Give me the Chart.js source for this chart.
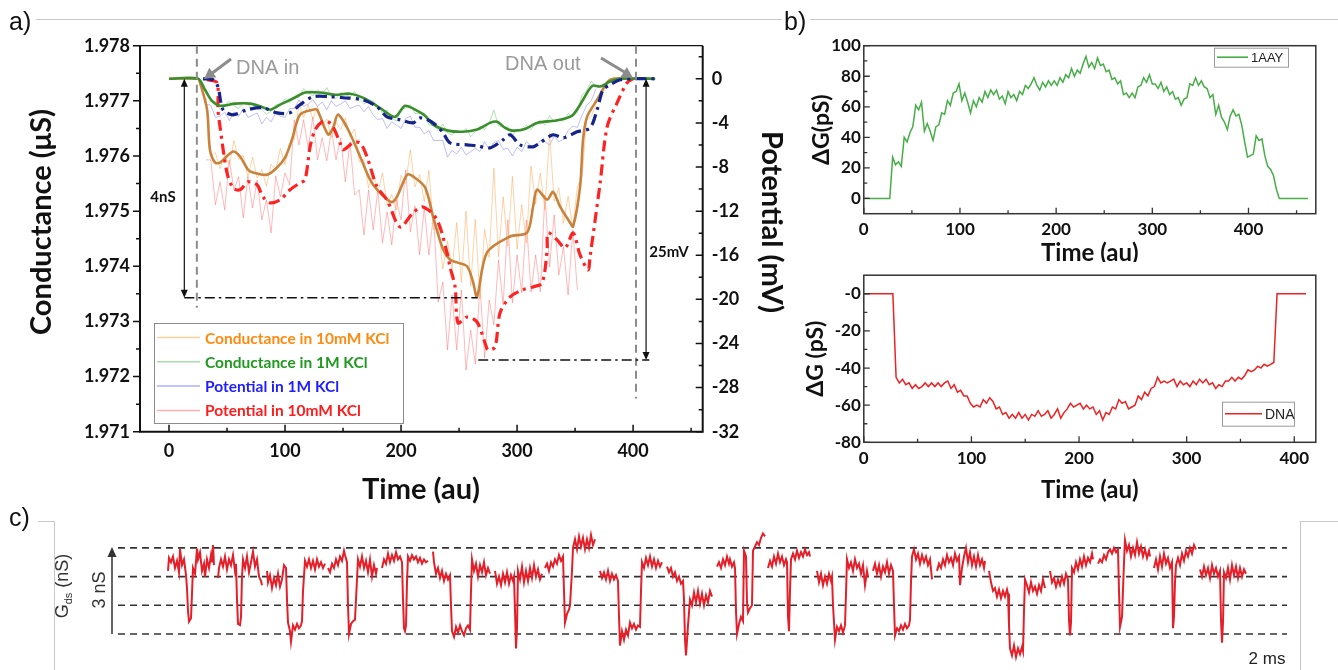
<!DOCTYPE html>
<html>
<head>
<meta charset="utf-8">
<script src="https://cdn.jsdelivr.net/npm/chart.js@4.4.1/dist/chart.umd.min.js"></script>
<style>
body{margin:0;background:#fff;width:1338px;height:670px;overflow:hidden;position:relative;font-family:'Liberation Sans',Arial,sans-serif}
canvas{position:absolute}
.rule{position:absolute;background:#c8c8c8}
.lbl{position:absolute;font-size:25px;line-height:25px;color:#111}
</style>
</head>
<body>
<div class="rule" style="left:36px;top:19px;width:746px;height:1px"></div>
<div class="rule" style="left:810px;top:19px;width:528px;height:1px"></div>
<div class="rule" style="left:38px;top:521px;width:16px;height:1px"></div>
<div class="rule" style="left:54px;top:521px;width:1px;height:149px"></div>
<div class="rule" style="left:1300px;top:521px;width:1px;height:149px"></div>
<div class="rule" style="left:1300px;top:521px;width:38px;height:1px"></div>

<canvas id="chartA" width="790" height="520" style="left:0;top:0"></canvas>
<canvas id="chartB1" width="548" height="262" style="left:790px;top:0"></canvas>
<canvas id="chartB2" width="548" height="258" style="left:790px;top:262px"></canvas>
<canvas id="chartC" width="1338" height="149" style="left:0;top:521px"></canvas>

<div class="lbl" style="left:9px;top:9px">a)</div>
<div class="lbl" style="left:784px;top:9px">b)</div>
<div class="lbl" style="left:9px;top:505px">c)</div>

<script>
Chart.defaults.font.family = 'Lato';

// ---------- panel a : conductance / potential vs time ----------
const aTimeTicks = [0, 100, 200, 300, 400];
const aTimeMinor = [50, 150, 250, 350, 450];
const aCondTicks = [1.971, 1.972, 1.973, 1.974, 1.975, 1.976, 1.977, 1.978];
const aCondMinor = [1.9715, 1.9725, 1.9735, 1.9745, 1.9755, 1.9765, 1.9775];
const aPotTicks = [-32, -28, -24, -20, -16, -12, -8, -4, 0];
const aPotMinor = [-30, -26, -22, -18, -14, -10, -6, -2, 2];

// raw traces, sampled every 4 au starting at 32 au
const rawStart = 32, rawStep = 4;
const cond10mM = [
  1.97705,1.97601,1.97606,1.97577,1.97602,1.97583,1.97628,1.97594,1.97601,1.97561,
  1.97598,1.97560,1.97575,1.97545,1.97585,1.97574,1.97614,1.97584,1.97623,1.97630,
  1.97694,1.97670,1.97693,1.97666,1.97691,1.97654,1.97667,1.97634,1.97662,1.97648,
  1.97669,1.97635,1.97649,1.97589,1.97593,1.97542,1.97569,1.97533,1.97569,1.97511,
  1.97530,1.97502,1.97565,1.97550,1.97611,1.97544,1.97566,1.97517,1.97574,1.97466,
  1.97478,1.97395,1.97446,1.97396,1.97479,1.97371,1.97500,1.97364,1.97485,1.97341,
  1.97467,1.97416,1.97578,1.97417,1.97526,1.97436,1.97563,1.97431,1.97512,1.97442,
  1.97582,1.97513,1.97569,1.97502,1.97642,1.97518,1.97542,1.97478,1.97527,1.97470,
  1.97544,1.97562,1.97666,1.97672,1.97692];
const cond1M = [
  1.97721,1.97698,1.97699,1.97684,1.97692,1.97699,1.97691,1.97686,1.97698,1.97693,
  1.97686,1.97693,1.97684,1.97676,1.97681,1.97693,1.97692,1.97704,1.97696,1.97707,
  1.97706,1.97722,1.97715,1.97709,1.97720,1.97712,1.97724,1.97708,1.97704,1.97715,
  1.97712,1.97707,1.97717,1.97704,1.97695,1.97698,1.97700,1.97690,1.97678,1.97683,
  1.97669,1.97663,1.97685,1.97687,1.97693,1.97677,1.97677,1.97678,1.97656,1.97656,
  1.97647,1.97658,1.97642,1.97638,1.97647,1.97642,1.97650,1.97635,1.97644,1.97654,
  1.97648,1.97660,1.97683,1.97655,1.97652,1.97653,1.97637,1.97649,1.97645,1.97656,
  1.97648,1.97660,1.97664,1.97656,1.97673,1.97662,1.97667,1.97663,1.97677,1.97672,
  1.97679,1.97710,1.97718,1.97736,1.97725];
const pot1M = [
  -2.3,-2.4,-3.5,-3.4,-3.0,-3.8,-3.0,-3.4,-2.7,-3.5,
  -3.3,-3.1,-4.1,-3.5,-3.9,-3.1,-3.4,-3.5,-2.7,-2.7,
  -1.9,-2.5,-2.3,-1.9,-2.5,-2.1,-2.8,-2.0,-2.5,-2.3,
  -2.0,-2.7,-2.5,-2.4,-3.0,-2.5,-3.3,-3.7,-3.6,-4.5,
  -3.9,-4.2,-4.5,-3.6,-3.4,-4.4,-4.4,-5.0,-4.7,-5.6,
  -5.6,-5.6,-7.1,-6.5,-6.8,-6.2,-6.9,-6.6,-6.3,-6.6,
  -5.7,-6.4,-5.8,-5.6,-6.4,-6.3,-7.0,-6.2,-6.6,-5.7,
  -6.1,-6.2,-5.6,-5.7,-6.0,-5.2,-5.7,-5.5,-4.7,-4.3,
  -4.4,-3.3,-2.4,-2.0,-0.9];
const pot10mM = [
  -7.35,-7.35,-11.43,-9.35,-11.89,-7.35,-10.07,-8.89,-12.61,-8.89,
  -11.71,-9.17,-12.79,-10.98,-13.97,-8.80,-10.71,-8.53,-9.62,-3.72,
  -5.99,-3.72,-6.26,-3.45,-7.35,-5.35,-7.44,-4.63,-7.35,-5.35,
  -9.35,-5.72,-10.53,-10.07,-14.16,-10.07,-13.70,-10.07,-14.88,-12.07,
  -15.06,-10.98,-12.79,-8.26,-13.88,-11.52,-15.97,-11.62,-15.97,-12.34,
  -20.24,-18.42,-24.59,-19.60,-24.59,-19.15,-26.41,-22.78,-25.86,-18.69,
  -25.32,-20.05,-22.32,-16.42,-20.51,-12.79,-20.33,-15.97,-19.42,-12.79,
  -19.33,-15.97,-19.33,-10.53,-17.06,-12.34,-17.79,-15.25,-19.60,-13.70,
  -19.15];

// smoothed traces
const cond10mMSmT = [0,25,26.7,32.8,35.3,39.7,44,55.2,61.2,68.1,72.4,84.5,93.1,100,106,112.9,124.1,127.6,137.1,141.4,145.7,154.3,164.7,173.3,179.3,193.1,205.2,210.3,220.7,227.6,236.2,242.2,248.3,256.9,262.1,265.5,274.1,294,308.6,313.8,317.2,325.9,331,337.1,345.7,348.3,354.3,356.9,360.3,369,377.6,382.8,419];
const cond10mMSm = [1.97740,1.97740,1.97733,1.97684,1.97611,1.97588,1.97588,1.97608,1.97599,1.97575,1.97570,1.97566,1.97579,1.97597,1.97630,1.97675,1.97684,1.97684,1.97639,1.97651,1.97675,1.97648,1.97599,1.97557,1.97539,1.97517,1.97566,1.97563,1.97543,1.97490,1.97431,1.97412,1.97407,1.97400,1.97371,1.97345,1.97425,1.97454,1.97461,1.97508,1.97539,1.97521,1.97535,1.97508,1.97479,1.97472,1.97544,1.97630,1.97671,1.97702,1.97733,1.97740,1.97740];
const cond1MSmT = [0,25,31,37.1,44,56.9,69.8,80.2,87.1,95.7,108.6,117.2,130.2,143.1,156,169,181.9,194.8,203.4,212.1,220.7,227.6,240.5,253.4,265.5,276.7,282.8,289.7,295.7,306.9,317.2,332.8,341.4,347.4,352.6,356.9,364.7,371.6,380.2,388.8,419];
const cond1MSm = [1.97740,1.97740,1.97720,1.97700,1.97691,1.97695,1.97695,1.97689,1.97684,1.97693,1.97706,1.97715,1.97715,1.97711,1.97713,1.97704,1.97687,1.97671,1.97691,1.97684,1.97673,1.97657,1.97646,1.97644,1.97648,1.97660,1.97662,1.97651,1.97646,1.97649,1.97660,1.97664,1.97668,1.97673,1.97687,1.97702,1.97727,1.97726,1.97735,1.97740,1.97740];
const pot10mMSmT = [32.8,41.4,42.2,44,50,55.2,61.2,68.1,75.9,81,87.1,95.7,104.3,112.9,117.2,121.6,125.9,131.9,137.1,141.4,147.4,150,158.6,164.7,170.7,179.3,187.9,199.1,210.3,219,231,239.7,242.2,246.6,249.1,256.9,265.5,272.4,275,281,285.3,294,304.3,313.8,321.6,325.9,326.7,334.5,341.4,348.3,354.3,361.2,362.9,371.6,377.6,386.2,394.8,400];
const pot10mMSm = [-0.09,-0.36,-2.8,-4.36,-8.53,-9.89,-10.07,-9.35,-9.62,-10.71,-11.25,-10.98,-10.07,-9.44,-9.17,-6.17,-4.63,-3.9,-3.9,-4.36,-5.81,-6.44,-5.81,-5.81,-7.08,-9.8,-10.98,-13.43,-12.16,-11.62,-12.79,-15.79,-17.06,-18.87,-22.14,-21.6,-22.05,-23.96,-24.59,-24.32,-21.23,-19.78,-19.15,-18.87,-18.51,-15.52,-13.97,-14.61,-15.34,-13.97,-15.97,-17.33,-16.15,-9.44,-4.36,-2.18,-0.36,0];
const pot1MSmT = [29.3,37.9,42.2,46.6,55.2,67.2,81,93.1,104.3,112.9,124.1,138.8,150,167.2,179.3,187.9,199.1,210.3,216.4,227.6,236.2,242.2,256.9,265.5,276.7,287.9,294,302.6,313.8,319.8,331,339.7,351.7,362.9,369,374.1,380.2,388.8,400,419];
const pot1MSm = [0,-0.09,-0.73,-2.81,-3.27,-2.81,-2.63,-3.09,-3.09,-2.36,-1.63,-1.63,-1.72,-1.91,-2.54,-3.45,-3.72,-4.0,-3.54,-3.99,-4.9,-5.81,-5.99,-6.08,-6.26,-5.54,-5.08,-5.99,-6.17,-5.81,-5.08,-5.35,-4.81,-4.45,-2.81,-1.0,-0.54,-0.09,0,0];

// ---------- panel b ----------
const bStart = 0, bStep = 3;
const bTimeTicks = [0, 100, 200, 300, 400];
const bTimeMinor = [50, 150, 250, 350, 450];
const b1Ticks = [0, 20, 40, 60, 80, 100];
const b1Minor = [10, 30, 50, 70, 90];
const b2Ticks = [-80, -60, -40, -20, 0];
const b2Minor = [-70, -50, -30, -10];
const dG1AAY = [
  0,0,0,0,0,0,0,0,0,0,
  27,22,24,21,40,37,43,47,61,58, 63,44,49,44,38,47,48,56,55,64,
  61,69,70,75,64,69,63,56,64,60, 66,63,70,66,71,68,71,65,67,62,
  70,66,68,64,70,68,74,72,75,79, 74,71,76,73,77,74,77,74,79,76,
  81,79,85,80,84,82,88,93,86,89, 85,92,87,88,83,84,78,79,75,77,
  68,69,66,69,66,73,74,79,76,81, 75,75,72,76,70,73,68,70,65,66,
  61,65,66,75,74,79,74,77,73,72, 66,68,55,61,53,50,45,54,58,54,
  55,48,37,27,28,29,41,38,39,28, 21,19,15,6,
  0,0,0,0,0,0,0,0,0,0,0];
const dGDNA = [
  0,0,0,0,0,0,0,0,0,0,
  -45,-48,-46,-49,-48,-51,-49,-51,-50,-48, -50,-48,-50,-48,-50,-48,-47,-51,-49,-53,
  -52,-55,-55,-59,-61,-60,-61,-57,-59,-56, -58,-62,-61,-65,-64,-67,-65,-67,-64,-67,
  -65,-68,-65,-66,-63,-66,-65,-63,-67,-65, -62,-67,-64,-62,-59,-61,-60,-59,-62,-60,
  -62,-61,-65,-63,-68,-64,-65,-61,-62,-57, -59,-58,-62,-61,-60,-55,-57,-53,-55,-51,
  -50,-45,-48,-47,-48,-47,-46,-50,-47,-49, -48,-50,-47,-49,-46,-48,-46,-49,-48,-51,
  -49,-50,-47,-47,-45,-47,-45,-46,-44,-41, -42,-41,-39,-40,-38,-39,-38,-37,
  0,0,0,0,0,0,0,0,0,0];

// ---------- panel c : telegraph signal, time in samples, G in nS ----------
const cLevels = [0, 1, 2, 3];
const cTimeSeg = [
  [50,51,53,55,57,59,61,62,64,66,68,69,70,71,73,74,75,77,79,80,82,84,86,87,89,91,93,94,95,96],
  [100,101,103,105,107,109,111,113,115,117,118,119,120,122,123,124,125,127,129,131,133,135,137,139,141,143,144],
  [149,150,152,154,156,158,160,162,164,166,168,169,170,172,173,175,177,179,181,183,184,185,187,189,191,193,195,197,199,201,203,205,207],
  [210,212,214,216,218,220,222,224,226,227,229,230,231,233,235,237,238,240,242,244,246,248,250,252,254,256,258,259],
  [264,266,268,270,272,274,276,278,280,282,284,285,286,287,288,289,290,292,294,296,298,300,302,304,306,308,310],
  [315,316,318,320,322,324,326,328,330,332,333,334,336,338,340,342,344,346,348,350,352,353,354,356,358,360,362,364,366,368,370,372],
  [377,379,381,383,385,387,389,391,393,395,396,397,398,399,400,402,404,406,408,410,412,414,416,418,420,422,424],
  [427,429,431,433,435,437,439,441,443,445,446,447,449,451,452,454,455,457,459,461,463,465,467,469,471,473,475,477],
  [482,484,486,488,490,492,494,496,498,500,501,502,504,506,508,510,512,514,516,518,520,522,523,524,526,528,530,532,534,536,538,540,542,544],
  [549,551,553,555,557,559,561,563,565,566,567,568,570,572,574,576,578,580,582,584,586,588,590,592,594],
  [599,601,603,605,607,609,611,612,614,616,617,618,619,621,623,625,626,628,629,630,632,634,635,637,639,641,643,645,647],
  [650,652,654,656,658,660,662,664,666,668,669,670,671,672,673,675,677,679,681,683,685,687,689,691,692],
  [699,701,703,705,707,709,711,713,714,715,717,719,721,723,725,727,728,729,731,733,735,737,739,741,743,745,747,749,750],
  [755,757,759,761,763,765,767,769,771,773,775,776,777,779,781,783,785,787,789,791,792,793,794,796,798,800,802,804,806,808,810,812,814],
  [819,821,823,825,827,829,831,833,835,837,839,841,842,844,846,848,850,852,854,856,858,860,862,864,866,867],
  [871,873,875,877,879,881,883,885,887,889,890,891,892,894,896,898,900,902,904,905,906,907,909,911,913,915,917,919,921,923,925,927],
  [932,934,936,938,940,942,944,946,948,950,951,952,953,954,956,958,960,962,964,966,968,970,972,974,975],
  [980,982,984,986,988,990,992,994,996,998,1000,1001,1002,1004,1006,1007,1009,1011,1013,1015,1017,1019,1021,1023,1025,1027,1029,1031,1032],
  [1036,1038,1040,1042,1044,1046,1048,1050,1052,1054,1055,1056,1057,1058,1060,1062,1064,1066,1068,1070,1072,1074,1076,1078],
  [1082,1084,1086,1088,1090,1092,1094,1096,1098,1100,1102,1103,1104,1105,1106,1108,1110,1112,1114,1116,1118,1120,1122,1124,1126,1128]
];
const cCondSeg = [
  [2.2,2.65,2.5,2.7,2.3,2.55,2.15,2.96,2.4,2.6,2.05,1.6,0.8,0.43,0.55,1.4,2.3,2.1,2.98,2.6,2.85,2.2,2.45,2.0,2.6,2.3,2.75,2.5,3.1,2.4],
  [1.95,2.3,2.6,2.35,2.7,2.25,2.6,2.4,2.75,2.2,2.45,1.2,0.35,0.31,0.6,2.0,2.6,2.3,2.7,2.15,2.5,2.87,2.35,2.6,2.0,1.85,1.7],
  [2.2,1.8,2.05,1.6,1.95,1.7,2.1,1.65,1.9,2.4,2.3,1.2,0.4,0.1,-0.27,0.3,0.15,0.35,0.2,0.3,0.45,1.5,2.55,2.35,2.6,2.3,2.55,2.25,2.6,2.35,2.5,2.3,2.45],
  [2.3,2.15,2.45,2.3,2.6,2.4,2.7,2.55,2.9,2.75,2.5,1.0,0.0,0.35,0.45,0.5,1.2,2.6,2.35,2.7,2.3,2.55,2.15,2.6,2.0,2.4,2.1,2.3],
  [2.3,2.6,2.45,2.8,2.5,2.75,2.55,2.85,2.6,2.7,2.5,1.2,0.2,0.1,0.3,1.8,2.7,2.55,2.75,2.6,2.7,2.5,2.65,2.45,2.6,2.5,2.55],
  [2.87,2.5,2.1,2.3,1.95,2.2,1.85,2.1,1.9,2.05,1.0,0.1,-0.1,0.25,0.05,0.3,0.1,-0.05,0.2,0.3,0.15,1.5,2.6,2.2,2.45,2.0,2.4,2.15,2.5,2.05,2.3,2.1],
  [2.2,1.75,2.0,1.7,2.1,1.8,2.15,1.75,2.05,1.85,2.0,0.8,-0.5,0.2,2.2,1.9,2.35,1.8,2.2,1.85,2.3,1.95,2.4,2.0,2.25,1.9,2.1],
  [2.3,2.45,2.2,2.5,2.35,2.6,2.45,2.75,2.55,2.7,1.5,0.4,0.7,0.85,1.0,2.2,3.0,3.3,2.95,3.4,3.05,3.35,2.95,3.3,3.0,3.45,3.1,3.3],
  [2.2,1.95,2.15,1.9,2.2,1.85,2.1,1.9,2.05,1.85,0.6,-0.4,0.1,-0.2,0.15,-0.05,0.4,0.2,0.35,0.15,0.3,0.25,1.5,2.5,2.3,2.65,2.4,2.7,2.35,2.6,2.3,2.55,2.35,2.5],
  [2.35,2.15,2.3,2.0,2.15,1.85,2.0,1.75,1.85,1.2,-0.2,-0.75,0.3,1.2,1.0,1.45,1.1,1.5,1.05,1.4,1.0,1.35,1.1,1.5,1.3],
  [2.35,2.5,2.3,2.6,2.4,2.7,2.45,2.6,2.35,2.5,2.3,0.8,0.0,0.35,0.6,0.45,2.9,2.7,1.1,0.75,0.9,1.0,2.9,3.05,3.2,3.1,3.35,3.5,3.4],
  [2.3,2.55,2.35,2.7,2.45,2.8,2.5,2.7,2.4,2.6,2.5,0.6,0.1,1.5,2.6,2.8,2.6,2.9,2.65,2.85,2.7,2.95,2.75,2.85,2.7],
  [2.2,1.8,2.1,1.7,2.0,1.75,2.1,1.85,2.0,1.0,-0.2,0.25,0.1,0.3,0.05,0.3,1.4,2.6,2.3,2.5,2.2,2.6,2.3,2.45,2.1,2.4,1.7,2.2,2.0],
  [2.2,2.45,2.1,2.4,2.0,2.35,2.15,2.5,2.1,2.4,2.2,1.0,-0.05,0.2,0.1,0.3,0.15,0.35,0.2,0.3,0.5,1.8,2.7,2.95,2.6,2.8,2.45,2.75,2.5,2.7,2.4,2.6,1.9],
  [2.2,2.45,2.3,2.6,2.4,2.75,2.5,2.65,2.4,2.8,2.55,2.7,1.7,2.3,2.7,3.0,2.5,2.85,2.4,2.7,2.35,2.75,2.4,2.6,2.3,2.55],
  [2.2,1.8,1.5,1.6,1.3,1.55,1.25,1.5,1.3,1.55,1.4,0.3,-0.5,-0.75,-0.4,-0.8,-0.5,-0.7,-0.45,-0.6,0.8,1.9,1.7,1.45,1.8,1.5,1.65,1.4,1.7,1.5,1.9,1.6],
  [2.2,1.8,1.95,1.65,1.9,1.7,2.0,1.75,2.1,1.9,0.5,-0.05,0.4,2.3,2.15,2.5,2.25,2.6,2.35,2.7,2.4,2.65,2.5,2.8,2.6],
  [2.45,2.6,2.5,2.75,2.6,2.85,2.95,2.8,3.0,2.85,2.95,1.5,0.25,0.6,2.5,3.27,2.9,3.1,2.7,3.0,2.75,3.2,2.8,3.05,2.7,2.95,2.65,2.9,2.7],
  [2.3,2.6,2.25,2.7,2.35,2.8,2.45,2.65,2.3,2.5,0.2,0.6,1.8,2.4,2.65,2.4,2.8,2.55,2.9,2.7,3.0,2.8,3.1,2.95],
  [2.25,2.0,2.35,2.05,2.3,1.95,2.4,2.1,2.3,2.0,2.2,0.5,-0.3,0.4,2.15,1.95,2.3,1.9,2.4,2.05,2.35,1.95,2.3,2.0,2.25,2.1]
];

// ---------- helpers ----------
const pairs = (ts, vs) => ts.map((t, i) => ({x: t, y: vs[i]}));
const sampled = (vals, start, step) => vals.map((v, i) => ({x: start + step * i, y: v}));
const setTicks = vals => s => { s.ticks = vals.map(v => ({value: v})); };

function tickMarks(ctx, scale, values, edge, len, sign) {
  ctx.beginPath();
  values.forEach(v => {
    const p = scale.getPixelForValue(v);
    if (scale.isHorizontal()) { ctx.moveTo(p, edge); ctx.lineTo(p, edge + sign * len); }
    else { ctx.moveTo(edge, p); ctx.lineTo(edge + sign * len, p); }
  });
  ctx.stroke();
}
function head(ctx, x1, y1, x2, y2, len, half) {
  const a = Math.atan2(y2 - y1, x2 - x1);
  ctx.beginPath();
  ctx.moveTo(x2, y2);
  ctx.lineTo(x2 - len * Math.cos(a) + half * Math.sin(a), y2 - len * Math.sin(a) - half * Math.cos(a));
  ctx.lineTo(x2 - len * Math.cos(a) - half * Math.sin(a), y2 - len * Math.sin(a) + half * Math.cos(a));
  ctx.closePath();
  ctx.fill();
}
function seg(ctx, x1, y1, x2, y2) {
  ctx.beginPath(); ctx.moveTo(x1, y1); ctx.lineTo(x2, y2); ctx.stroke();
}
function rotText(ctx, txt, x, y, ang) {
  ctx.save(); ctx.translate(x, y); ctx.rotate(ang);
  ctx.textAlign = 'center'; ctx.textBaseline = 'middle';
  ctx.fillText(txt, 0, 0); ctx.restore();
}

const tickFontA = {family: 'Lato', weight: 'bold', size: 18};
const tickFontB = {family: 'Lato', weight: 'bold', size: 17};

// ---------- panel a ----------
const legendA = [
  {text: 'Conductance in 10mM KCl', line: 'rgba(255,170,90,0.6)', color: '#ff8a10'},
  {text: 'Conductance in 1M KCl', line: 'rgba(110,200,110,0.6)', color: '#1f9a1f'},
  {text: 'Potential in 1M KCl', line: 'rgba(120,120,255,0.6)', color: '#1e1eff'},
  {text: 'Potential in 10mM KCl', line: 'rgba(255,120,120,0.6)', color: '#ff1c1c'}
];

const decorA = {
  id: 'decorA',
  afterDraw(chart) {
    const {ctx, chartArea: ca} = chart;
    const {x, y, y2} = chart.scales;
    ctx.save();
    // frame
    ctx.strokeStyle = '#111';
    ctx.lineWidth = 1.2;
    seg(ctx, ca.left, ca.top, ca.right, ca.top);
    ctx.lineWidth = 2;
    ctx.beginPath();
    ctx.moveTo(ca.left, ca.top); ctx.lineTo(ca.left, ca.bottom);
    ctx.lineTo(ca.right, ca.bottom); ctx.lineTo(ca.right, ca.top);
    ctx.stroke();
    ctx.lineWidth = 1.5;
    tickMarks(ctx, y, aCondTicks, ca.left, 7, -1);
    tickMarks(ctx, y, aCondMinor, ca.left, 4, -1);
    tickMarks(ctx, x, aTimeTicks, ca.bottom, 7, -1);
    tickMarks(ctx, x, aTimeMinor, ca.bottom, 4, -1);
    tickMarks(ctx, y2, aPotTicks, ca.right, 7, -1);
    tickMarks(ctx, y2, aPotMinor, ca.right, 4, -1);

    // DNA in / out markers
    ctx.strokeStyle = '#8c8c8c';
    ctx.lineWidth = 2;
    ctx.setLineDash([8, 5]);
    seg(ctx, x.getPixelForValue(24), ca.top, x.getPixelForValue(24), y.getPixelForValue(1.97325));
    seg(ctx, x.getPixelForValue(402.5), ca.top, x.getPixelForValue(402.5), y2.getPixelForValue(-29));
    ctx.setLineDash([]);
    ctx.fillStyle = '#8c8c8c';
    ctx.lineWidth = 3;
    seg(ctx, 231, 59, 211, 74); head(ctx, 231, 59, 204, 79, 11, 6);
    seg(ctx, 601, 58, 626, 73); head(ctx, 601, 58, 633, 78, 11, 6);
    ctx.fillStyle = '#9a9a9a';
    ctx.font = '20px "Liberation Sans", Arial, sans-serif';
    ctx.textBaseline = 'middle';
    ctx.textAlign = 'left';
    ctx.fillText('DNA in', 236, 68);
    ctx.fillText('DNA out', 505, 64);

    // 4 nS and 25 mV spans
    ctx.strokeStyle = '#111';
    ctx.fillStyle = '#111';
    ctx.lineWidth = 1.2;
    const ax = x.getPixelForValue(13.2), ayT = y.getPixelForValue(1.9774), ayB = y.getPixelForValue(1.97343);
    seg(ctx, ax, ayT + 6, ax, ayB - 6);
    head(ctx, ax, ayB, ax, ayT, 8, 3.5); head(ctx, ax, ayT, ax, ayB, 8, 3.5);
    const bx = x.getPixelForValue(411.2), byT = y2.getPixelForValue(0), byB = y2.getPixelForValue(-25.5);
    seg(ctx, bx, byT + 6, bx, byB - 6);
    head(ctx, bx, byB, bx, byT, 8, 3.5); head(ctx, bx, byT, bx, byB, 8, 3.5);
    ctx.lineWidth = 1.6;
    ctx.setLineDash([10, 4, 2.5, 4]);
    seg(ctx, ax, ayB, x.getPixelForValue(266), ayB);
    seg(ctx, x.getPixelForValue(266.5), byB, x.getPixelForValue(414), byB);
    ctx.setLineDash([]);
    ctx.font = 'bold 15px Lato';
    ctx.textAlign = 'center';
    ctx.fillText('4nS', 163, 197);
    ctx.fillText('25mV', 669, 252);

    // legend
    ctx.fillStyle = '#fff';
    ctx.fillRect(154, 323, 249, 100);
    ctx.strokeStyle = '#8c8c8c';
    ctx.lineWidth = 1;
    ctx.strokeRect(154.5, 323.5, 249, 100);
    ctx.font = 'bold 15.5px Lato';
    ctx.textAlign = 'left';
    legendA.forEach((e, i) => {
      const ly = 337.5 + i * 24.3;
      ctx.strokeStyle = e.line; ctx.lineWidth = 1.5;
      seg(ctx, 157, ly, 200, ly);
      ctx.fillStyle = e.color;
      ctx.fillText(e.text, 205, ly + 1);
    });

    // axis titles
    ctx.fillStyle = '#111';
    ctx.font = 'bold 29px Lato';
    rotText(ctx, 'Conductance (\u03bcS)', 42, 222, -Math.PI / 2);
    rotText(ctx, 'Potential (mV)', 771, 222, Math.PI / 2);
    rotText(ctx, 'Time (au)', 421, 490, 0);
    ctx.restore();
  }
};

const thin = (data, color, axis) => ({data, yAxisID: axis, borderColor: color, borderWidth: 1, pointRadius: 0, tension: 0, order: 5});

new Chart(document.getElementById('chartA'), {
  type: 'line',
  data: {
    datasets: [
      thin(sampled(cond10mM, rawStart, rawStep), 'rgba(255,165,80,0.5)', 'y'),
      thin(sampled(cond1M, rawStart, rawStep), 'rgba(80,190,80,0.45)', 'y'),
      thin(sampled(pot1M, rawStart, rawStep), 'rgba(110,110,255,0.45)', 'y2'),
      thin(sampled(pot10mM, rawStart, rawStep), 'rgba(255,100,100,0.45)', 'y2'),
      {data: pairs(cond10mMSmT, cond10mMSm), yAxisID: 'y', borderColor: '#c9823c', borderWidth: 2.6, pointRadius: 0, tension: 0.3, order: 3},
      {data: pairs(pot10mMSmT, pot10mMSm), yAxisID: 'y2', borderColor: '#ff2222', borderWidth: 3.2, borderDash: [11, 5, 3, 5], pointRadius: 0, tension: 0.3, order: 2},
      {data: pairs(cond1MSmT, cond1MSm), yAxisID: 'y', borderColor: '#3a8e2c', borderWidth: 2.6, pointRadius: 0, tension: 0.3, order: 1},
      {data: pairs(pot1MSmT, pot1MSm), yAxisID: 'y2', borderColor: '#15248a', borderWidth: 3.2, borderDash: [11, 5, 3, 5], pointRadius: 0, tension: 0.3, order: 0}
    ]
  },
  options: {
    responsive: false, animation: false, devicePixelRatio: 1,
    layout: {padding: {top: 45.7, left: 0, right: 0, bottom: 0}},
    plugins: {legend: {display: false}, tooltip: {enabled: false}},
    scales: {
      x: {type: 'linear', min: -25, max: 460,
          grid: {display: false, drawTicks: false}, border: {display: false},
          ticks: {font: tickFontA, color: '#111', padding: 9, autoSkip: false, maxRotation: 0},
          afterBuildTicks: setTicks(aTimeTicks), afterFit: s => { s.height = 88.3; }},
      y: {min: 1.971, max: 1.978,
          grid: {display: false, drawTicks: false}, border: {display: false},
          ticks: {font: tickFontA, color: '#111', padding: 10, callback: v => v.toFixed(3)},
          afterBuildTicks: setTicks(aCondTicks), afterFit: s => { s.width = 140; }},
      y2: {position: 'right', min: -32, max: 3,
           grid: {display: false, drawTicks: false}, border: {display: false},
           ticks: {font: tickFontA, color: '#111', padding: 9},
           afterBuildTicks: setTicks(aPotTicks), afterFit: s => { s.width = 87.3; }}
    }
  },
  plugins: [decorA]
});

// ---------- panel b ----------
function decorB(cfg) {
  return {
    id: 'decorB',
    afterDraw(chart) {
      const {ctx, chartArea: ca} = chart;
      const {x, y} = chart.scales;
      ctx.save();
      ctx.strokeStyle = '#333';
      ctx.lineWidth = 1.5;
      ctx.strokeRect(ca.left, ca.top, ca.right - ca.left, ca.bottom - ca.top);
      ctx.lineWidth = 1.3;
      tickMarks(ctx, y, cfg.yTicks, ca.left, 6, 1);
      tickMarks(ctx, y, cfg.yMinor, ca.left, 3.5, 1);
      tickMarks(ctx, x, bTimeTicks, ca.bottom, 6, -1);
      tickMarks(ctx, x, bTimeMinor.filter(v => v < x.max), ca.bottom, 3.5, -1);
      // legend
      const L = cfg.legend;
      ctx.fillStyle = '#fff';
      ctx.fillRect(L.x, L.y, L.w, L.h);
      ctx.strokeStyle = '#9a9a9a'; ctx.lineWidth = 1;
      ctx.strokeRect(L.x + 0.5, L.y + 0.5, L.w, L.h);
      ctx.strokeStyle = cfg.color; ctx.lineWidth = 1.6;
      seg(ctx, L.x + 3, L.y + L.h / 2, L.x + L.line, L.y + L.h / 2);
      ctx.fillStyle = '#222';
      ctx.font = L.font;
      ctx.textBaseline = 'middle'; ctx.textAlign = 'left';
      ctx.fillText(L.text, L.x + L.line + 3, L.y + L.h / 2 + 1);
      // titles
      ctx.fillStyle = '#111';
      ctx.font = 'bold 24px Lato';
      rotText(ctx, 'Time (au)', (ca.left + ca.right) / 2, cfg.xTitleY, 0);
      ctx.font = 'bold 23px Lato';
      rotText(ctx, cfg.yTitle, cfg.yTitleX, (ca.top + ca.bottom) / 2, -Math.PI / 2);
      ctx.restore();
    }
  };
}

function panelB(id, vals, color, cfg) {
  new Chart(document.getElementById(id), {
    type: 'line',
    data: {datasets: [{data: sampled(vals, bStart, bStep), borderColor: color, borderWidth: 1.5, pointRadius: 0, tension: 0}]},
    options: {
      responsive: false, animation: false, devicePixelRatio: 1,
      layout: {padding: {top: cfg.top, left: 0, right: 22.2, bottom: 0}},
      plugins: {legend: {display: false}, tooltip: {enabled: false}},
      scales: {
        x: {type: 'linear', min: 0, max: cfg.xMax,
            grid: {display: false, drawTicks: false}, border: {display: false},
            ticks: {font: tickFontB, color: '#111', padding: 6, autoSkip: false, maxRotation: 0},
            afterBuildTicks: setTicks(bTimeTicks), afterFit: s => { s.height = cfg.xh; }},
        y: {min: cfg.yMin, max: cfg.yMax,
            grid: {display: false, drawTicks: false}, border: {display: false},
            ticks: {font: tickFontB, color: '#111', padding: 3, callback: cfg.label},
            afterBuildTicks: setTicks(cfg.yTicks), afterFit: s => { s.width = 73.8; }}
      }
    },
    plugins: [decorB(Object.assign({color}, cfg))]
  });
}

panelB('chartB1', dG1AAY, '#47ad47', {
  top: 45.7, xh: 48.3, xMax: 470, yMin: -10, yMax: 100, yTicks: b1Ticks, yMinor: b1Minor,
  label: v => String(v), yTitle: '\u0394G(pS)', yTitleX: 31.6, xTitleY: 253,
  legend: {x: 424, y: 47.7, w: 74, h: 19, line: 34, text: '1AAY', font: '13px "Liberation Sans", Arial, sans-serif'}
});
panelB('chartB2', dGDNA, '#ee2222', {
  top: 12, xh: 77.7, xMax: 420, yMin: -80, yMax: 10, yTicks: b2Ticks, yMinor: b2Minor,
  label: v => (v === 0 ? '-0' : String(v)), yTitle: '\u0394G (pS)', yTitleX: 26, xTitleY: 228,
  legend: {x: 432, y: 139.7, w: 72, h: 24, line: 40, text: 'DNA', font: '14px "Liberation Sans", Arial, sans-serif'}
});

// ---------- panel c ----------
const cTrace = [];
cTimeSeg.forEach((ts, k) => {
  ts.forEach((t, i) => cTrace.push({x: t, y: cCondSeg[k][i]}));
  cTrace.push({x: ts[ts.length - 1] + 1, y: null});
});

const decorC = {
  id: 'decorC',
  afterDraw(chart) {
    const {ctx} = chart;
    const y = chart.scales.y;
    ctx.save();
    ctx.strokeStyle = '#333'; ctx.fillStyle = '#333'; ctx.lineWidth = 1.5;
    const y0 = y.getPixelForValue(0), y3 = y.getPixelForValue(3);
    seg(ctx, 112, y0, 112, y3 + 8);
    head(ctx, 112, y0, 112, y3 - 1, 10, 4.5);
    ctx.font = '18px "Liberation Sans", Arial, sans-serif';
    rotText(ctx, '3 nS', 100, 69, -Math.PI / 2);
    // G_ds (nS), rotated
    ctx.translate(62, 65);
    ctx.rotate(-Math.PI / 2);
    ctx.textBaseline = 'alphabetic';
    ctx.textAlign = 'left';
    const big = '18px "Liberation Sans", Arial, sans-serif', small = '11px "Liberation Sans", Arial, sans-serif';
    ctx.font = big; const wG = ctx.measureText('G').width, wR = ctx.measureText(' (nS)').width;
    ctx.font = small; const wS = ctx.measureText('ds').width;
    let cx = -(wG + wS + wR) / 2;
    ctx.font = big; ctx.fillText('G', cx, 6); cx += wG;
    ctx.font = small; ctx.fillText('ds', cx, 10); cx += wS;
    ctx.font = big; ctx.fillText(' (nS)', cx, 6);
    ctx.restore();
    ctx.save();
    ctx.fillStyle = '#222';
    ctx.font = '17px "Liberation Sans", Arial, sans-serif';
    rotText(ctx, '2 ms', 1267, 138, 0);
    ctx.restore();
  }
};

new Chart(document.getElementById('chartC'), {
  type: 'line',
  data: {
    datasets: [
      ...cLevels.map(l => ({data: [{x: 0, y: l}, {x: 1169, y: l}], borderColor: '#333', borderWidth: 1.6, borderDash: [7, 5], pointRadius: 0, order: 2})),
      {data: cTrace, borderColor: '#e3202a', borderWidth: 2, pointRadius: 0, tension: 0, order: 1}
    ]
  },
  options: {
    responsive: false, animation: false, devicePixelRatio: 1,
    layout: {padding: {top: 6, left: 118, right: 51, bottom: 0}},
    plugins: {legend: {display: false}, tooltip: {enabled: false}},
    scales: {
      x: {type: 'linear', min: 0, max: 1169, display: false},
      y: {min: -1.254, max: 3.728, display: false}
    }
  },
  plugins: [decorC]
});
</script>
</body>
</html>
